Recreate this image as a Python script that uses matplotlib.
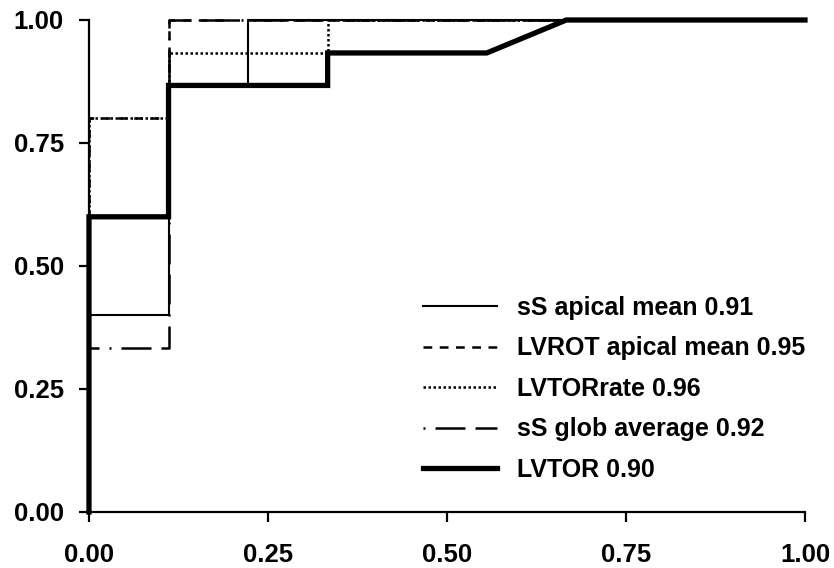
import numpy as np
import matplotlib.pyplot as plt

plt.rcParams['font.family'] = ['Liberation Sans', 'DejaVu Sans']
plt.rcParams['font.weight'] = 'bold'

# ROC curves: 1 - specificity (x) vs sensitivity (y)
ss_apical_x = [0, 0, 1/9, 1/9, 2/9, 2/9, 1]
ss_apical_y = [0, 0.4, 0.4, 0.867, 0.867, 1.0, 1.0]

lvrot_x = [0, 0, 1/9, 1/9, 1]
lvrot_y = [0, 0.8, 0.8, 1.0, 1.0]

lvtorrate_x = [0, 0, 1/9, 1/9, 3/9, 3/9, 1]
lvtorrate_y = [0, 0.8, 0.8, 0.933, 0.933, 1.0, 1.0]

ss_glob_x = [0, 0, 1/9, 1/9, 1]
ss_glob_y = [0, 0.333, 0.333, 1.0, 1.0]

lvtor_x = [0, 0, 1/9, 1/9, 3/9, 3/9, 5/9, 6/9, 1]
lvtor_y = [0, 0.6, 0.6, 0.867, 0.867, 0.933, 0.933, 1.0, 1.0]

labels = ['sS apical mean 0.91', 'LVROT apical mean 0.95', 'LVTORrate 0.96',
          'sS glob average 0.92', 'LVTOR 0.90']
ticks = [0, 0.25, 0.5, 0.75, 1.0]
tick_labels = ['0.00', '0.25', '0.50', '0.75', '1.00']

fig = plt.figure(figsize=(8.34, 5.68), dpi=100)
ax = fig.add_axes([0.1067, 0.0986, 0.8585, 0.8662])

ax.plot(ss_apical_x, ss_apical_y, color='black', lw=1.5, label=labels[0], clip_on=False)
ax.plot(lvrot_x, lvrot_y, color='black', lw=1.8, dashes=(3.5, 3), label=labels[1], clip_on=False)
ax.plot(lvtorrate_x, lvtorrate_y, color='black', lw=1.8, dashes=(1, 1), label=labels[2], clip_on=False)
ax.plot(ss_glob_x, ss_glob_y, color='black', lw=1.8, dashes=(0.8, 4, 12, 4, 12, 4),
        label=labels[3], clip_on=False)
ax.plot(lvtor_x, lvtor_y, color='black', lw=3.8, label=labels[4], clip_on=False,
        solid_joinstyle='miter')

ax.set_xlim(0, 1)
ax.set_ylim(0, 1)
ax.spines['top'].set_visible(False)
ax.spines['right'].set_visible(False)
for s in ['left', 'bottom']:
    ax.spines[s].set_linewidth(1.6)
ax.set_xticks(ticks)
ax.set_xticklabels(tick_labels)
ax.set_yticks(ticks)
ax.set_yticklabels(tick_labels)
ax.tick_params(length=7, width=1.6, labelsize=18.5)
ax.tick_params(axis='y', pad=11)
ax.tick_params(axis='x', pad=15)

ax.legend(loc='upper left', bbox_to_anchor=(0.507, 0.479), bbox_transform=fig.transFigure,
          frameon=False, fontsize=18, borderpad=0, borderaxespad=0,
          handlelength=2.96, labelspacing=0.66, handletextpad=0.8)

fig.savefig('out.png', dpi=100)
